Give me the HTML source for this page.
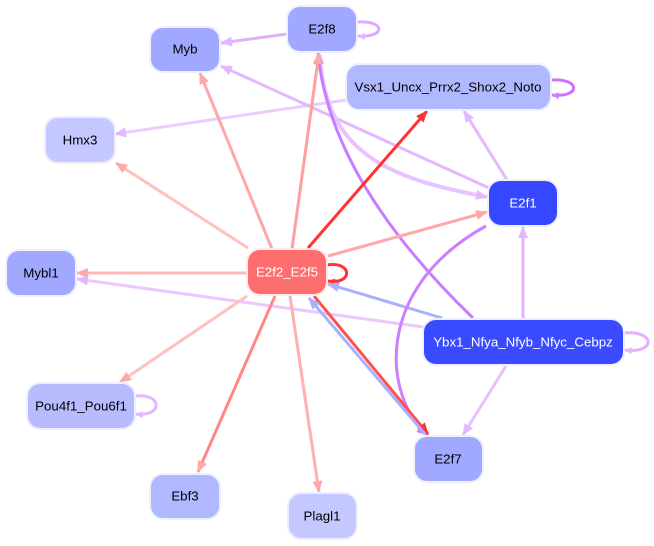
<!DOCTYPE html>
<html><head><meta charset="utf-8"><style>
html,body{margin:0;padding:0;background:#fff;}
svg{display:block;}
text{font-family:"Liberation Sans",sans-serif;font-size:13.3px;text-anchor:middle;dominant-baseline:central;}
</style></head><body>
<svg width="654" height="546" viewBox="0 0 654 546" xmlns="http://www.w3.org/2000/svg">
<defs>
<marker id="pl" markerUnits="userSpaceOnUse" markerWidth="12" markerHeight="10" refX="11" refY="5" orient="auto"><path d="M0,0L12,5L0,10z" fill="#e4b8ff"/></marker>
<marker id="pd" markerUnits="userSpaceOnUse" markerWidth="12" markerHeight="10" refX="11" refY="5" orient="auto"><path d="M0,0L12,5L0,10z" fill="#cc80ff"/></marker>
<marker id="r" markerUnits="userSpaceOnUse" markerWidth="12" markerHeight="10" refX="11" refY="5" orient="auto"><path d="M0,0L12,5L0,10z" fill="#ff3333"/></marker>
<marker id="rl" markerUnits="userSpaceOnUse" markerWidth="12" markerHeight="10" refX="11" refY="5" orient="auto"><path d="M0,0L12,5L0,10z" fill="#ffa8a8"/></marker>
<marker id="b" markerUnits="userSpaceOnUse" markerWidth="12" markerHeight="10" refX="11" refY="5" orient="auto"><path d="M0,0L12,5L0,10z" fill="#a8b0ff"/></marker>
<marker id="spl" markerUnits="userSpaceOnUse" markerWidth="8" markerHeight="7" refX="7" refY="3.5" orient="auto"><path d="M0,0L8,3.5L0,7z" fill="#e4b8ff"/></marker>
<marker id="spd" markerUnits="userSpaceOnUse" markerWidth="8" markerHeight="7" refX="7" refY="3.5" orient="auto"><path d="M0,0L8,3.5L0,7z" fill="#cc80ff"/></marker>
<marker id="sr" markerUnits="userSpaceOnUse" markerWidth="8" markerHeight="7" refX="7" refY="3.5" orient="auto"><path d="M0,0L8,3.5L0,7z" fill="#ff3333"/></marker>
</defs>
<g fill="none" stroke-width="3">
<path d="M287,34L221,43" stroke="#e0b0ff" marker-end="url(#pl)"/>
<path d="M357,22C386,20 386,38 358,36" stroke="#e0a8ff" marker-end="url(#spl)"/>
<path d="M551,80C581,78 581,98 552,95" stroke="#d070ff" marker-end="url(#spd)"/>
<path d="M346,100L115,134" stroke="#ecccff" marker-end="url(#pl)"/>
<path d="M489,188L221,66" stroke="#e4b8ff" marker-end="url(#pl)"/>
<path d="M320,55C325,160 400,180 487,197" stroke="#e8c4ff" stroke-width="4" marker-end="url(#pl)"/>
<path d="M473,318Q330,180 318,53" stroke="#c87cff" marker-end="url(#pd)"/>
<path d="M507,180L464,111" stroke="#e4b8ff" marker-end="url(#pl)"/>
<path d="M308,248L427,111" stroke="#ff3333" marker-end="url(#r)"/>
<path d="M292,249L319,53" stroke="#ffa0a0" marker-end="url(#rl)"/>
<path d="M272,249L200,73" stroke="#ffa8a8" marker-end="url(#rl)"/>
<path d="M248,248L116,163" stroke="#ffc0c0" marker-end="url(#rl)"/>
<path d="M328,256L487,212" stroke="#ffa8a8" marker-end="url(#rl)"/>
<path d="M327,265C353,261 353,285 328,281" stroke="#ff3333" marker-end="url(#sr)"/>
<path d="M247,273L77,273" stroke="#ffb8b8" marker-end="url(#rl)"/>
<path d="M423,327L77,279" stroke="#ecc8ff" marker-end="url(#pl)"/>
<path d="M442,318L328,284" stroke="#a8b0ff" marker-end="url(#b)"/>
<path d="M523,318L523,227" stroke="#e4b0ff" marker-end="url(#pl)"/>
<path d="M624,333C656,330 656,354 625,350" stroke="#e4b0ff" marker-end="url(#spl)"/>
<path d="M506,366L463,435" stroke="#e8c0ff" marker-end="url(#pl)"/>
<path d="M486,226C370,290 385,400 428,435" stroke="#cc80ff" marker-end="url(#pd)"/>
<path d="M314,296L428,434" stroke="#ff5050" marker-end="url(#r)"/>
<path d="M425,434L309,298" stroke="#a8b0ff" marker-end="url(#b)"/>
<path d="M247,296L120,382" stroke="#ffc0c0" marker-end="url(#rl)"/>
<path d="M135,396C163,393 163,417 136,414" stroke="#e4b8ff" marker-end="url(#spl)"/>
<path d="M275,296L198,472" stroke="#ff8888" marker-end="url(#rl)"/>
<path d="M290,296L319,492" stroke="#ffb0b0" marker-end="url(#rl)"/>
</g>
<g stroke="#eef0ff" stroke-width="2">
<rect x="287" y="6" width="70" height="46" rx="13" fill="#a0a8ff"/>
<rect x="150" y="27" width="70" height="45" rx="13" fill="#a0a8ff"/>
<rect x="346" y="64" width="205" height="46" rx="13" fill="#b0b8ff"/>
<rect x="45" y="117" width="70" height="46" rx="13" fill="#c4c8ff"/>
<rect x="488" y="180" width="70" height="46" rx="13" fill="#3548ff"/>
<rect x="247" y="249" width="80" height="46" rx="13" fill="#ff6e6e" stroke="#ffe8e8"/>
<rect x="6" y="250" width="70" height="46" rx="13" fill="#a0a8ff"/>
<rect x="423" y="319" width="201" height="46" rx="13" fill="#3a4aff"/>
<rect x="27" y="383" width="108" height="46" rx="13" fill="#b8bcff"/>
<rect x="414" y="436" width="69" height="46" rx="13" fill="#a0a8ff"/>
<rect x="150" y="474" width="70" height="45" rx="13" fill="#b0b8ff"/>
<rect x="288" y="493" width="69" height="46" rx="13" fill="#c4c8ff"/>
</g>
<text x="322" y="29">E2f8</text>
<text x="185" y="49">Myb</text>
<text x="448" y="87">Vsx1_Uncx_Prrx2_Shox2_Noto</text>
<text x="80" y="140">Hmx3</text>
<text x="523" y="203" fill="#fff">E2f1</text>
<text x="287" y="272" fill="#fff">E2f2_E2f5</text>
<text x="41" y="273">Mybl1</text>
<text x="523" y="342" fill="#fff">Ybx1_Nfya_Nfyb_Nfyc_Cebpz</text>
<text x="81" y="406">Pou4f1_Pou6f1</text>
<text x="448" y="459">E2f7</text>
<text x="185" y="496">Ebf3</text>
<text x="322" y="516">Plagl1</text>
</svg>
</body></html>
